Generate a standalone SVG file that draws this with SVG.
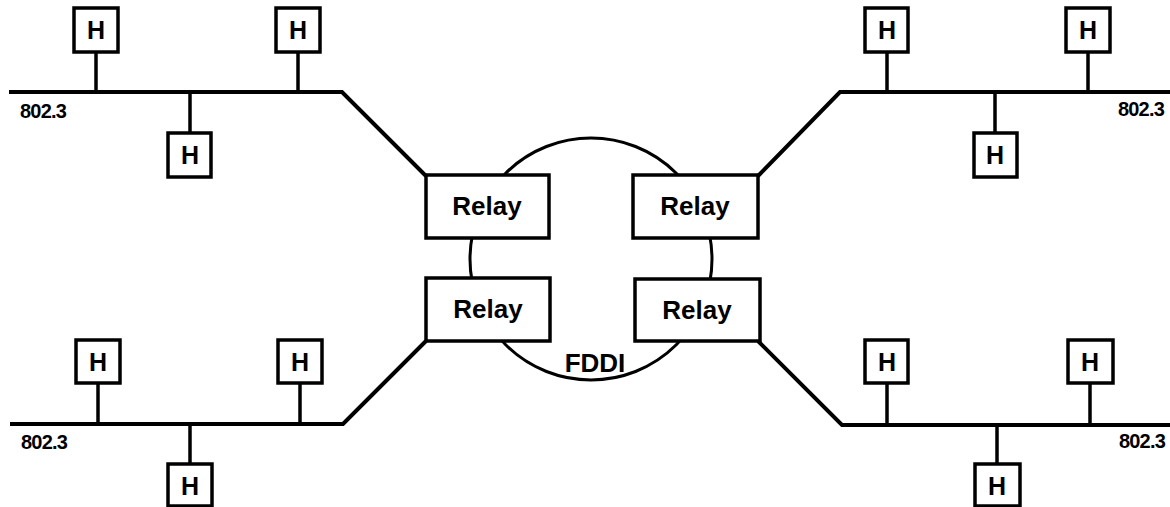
<svg xmlns="http://www.w3.org/2000/svg" width="1170" height="507" viewBox="0 0 1170 507">
<style>
.bus{fill:none;stroke:#000;stroke-width:4;stroke-linejoin:miter}
.stem{stroke:#000;stroke-width:3.5}
.ring{fill:none;stroke:#000;stroke-width:3}
.hbox{fill:#fff;stroke:#000;stroke-width:3.5}
.rbox{fill:#fff;stroke:#000;stroke-width:3.5}
.ht{font-family:"Liberation Sans",Arial,sans-serif;font-weight:bold;font-size:25px;text-anchor:middle}
.rt{font-family:"Liberation Sans",Arial,sans-serif;font-weight:bold;font-size:26px;text-anchor:middle}
.lbl{font-family:"Liberation Sans",Arial,sans-serif;font-weight:bold;font-size:20px;letter-spacing:-0.8px}
.fddi{font-family:"Liberation Sans",Arial,sans-serif;font-weight:bold;font-size:26px;text-anchor:middle}
</style>
<rect width="1170" height="507" fill="#fff"/>
<g id="connectors">
<circle class="ring" cx="591" cy="259" r="121"/>
<path class="bus" d="M9 92 H342 L426 176"/>
<path class="bus" d="M1170 92 H840 L758 176"/>
<path class="bus" d="M10 424 H343 L426 341"/>
<path class="bus" d="M1170 425 H842 L758 341"/>
<line class="stem" x1="96" y1="52" x2="96" y2="92"/>
<line class="stem" x1="298" y1="52" x2="298" y2="92"/>
<line class="stem" x1="190" y1="92" x2="190" y2="133"/>
<line class="stem" x1="887" y1="52" x2="887" y2="92"/>
<line class="stem" x1="1088" y1="52" x2="1088" y2="92"/>
<line class="stem" x1="995" y1="92" x2="995" y2="133"/>
<line class="stem" x1="98" y1="383" x2="98" y2="424"/>
<line class="stem" x1="300" y1="383" x2="300" y2="424"/>
<line class="stem" x1="190" y1="424" x2="190" y2="464"/>
<line class="stem" x1="887" y1="383" x2="887" y2="425"/>
<line class="stem" x1="1090" y1="383" x2="1090" y2="425"/>
<line class="stem" x1="997" y1="425" x2="997" y2="464"/>
</g>
<g id="relay-tl"><rect class="rbox" x="426" y="175" width="123" height="63"/><text class="rt" x="487" y="215">Relay</text></g>
<g id="relay-tr"><rect class="rbox" x="633" y="175" width="125" height="63"/><text class="rt" x="695" y="215">Relay</text></g>
<g id="relay-bl"><rect class="rbox" x="426" y="278" width="124" height="63"/><text class="rt" x="488" y="318">Relay</text></g>
<g id="relay-br"><rect class="rbox" x="635" y="279" width="125" height="62"/><text class="rt" x="697" y="319">Relay</text></g>
<g id="fddi-label"><text class="fddi" x="595" y="372">FDDI</text></g>
<g id="h-tl1"><rect class="hbox" x="74" y="8" width="44" height="44"/><text class="ht" x="96" y="39">H</text></g>
<g id="h-tl2"><rect class="hbox" x="276" y="8" width="44" height="44"/><text class="ht" x="298" y="39">H</text></g>
<g id="h-tl3"><rect class="hbox" x="168" y="133" width="43" height="44"/><text class="ht" x="190" y="164">H</text></g>
<g id="h-tr1"><rect class="hbox" x="865" y="8" width="43" height="44"/><text class="ht" x="887" y="39">H</text></g>
<g id="h-tr2"><rect class="hbox" x="1066" y="8" width="44" height="44"/><text class="ht" x="1088" y="39">H</text></g>
<g id="h-tr3"><rect class="hbox" x="974" y="133" width="43" height="44"/><text class="ht" x="995" y="164">H</text></g>
<g id="h-bl1"><rect class="hbox" x="76" y="340" width="44" height="43"/><text class="ht" x="98" y="371">H</text></g>
<g id="h-bl2"><rect class="hbox" x="278" y="340" width="44" height="43"/><text class="ht" x="300" y="371">H</text></g>
<g id="h-bl3"><rect class="hbox" x="168" y="464" width="44" height="42"/><text class="ht" x="190" y="495">H</text></g>
<g id="h-br1"><rect class="hbox" x="865" y="340" width="43" height="43"/><text class="ht" x="887" y="371">H</text></g>
<g id="h-br2"><rect class="hbox" x="1068" y="340" width="45" height="43"/><text class="ht" x="1090" y="371">H</text></g>
<g id="h-br3"><rect class="hbox" x="975" y="464" width="45" height="42"/><text class="ht" x="997" y="495">H</text></g>
<g id="labels">
<text class="lbl" x="20" y="118">802.3</text>
<text class="lbl" x="1164" y="116" text-anchor="end">802.3</text>
<text class="lbl" x="21" y="449">802.3</text>
<text class="lbl" x="1165" y="448" text-anchor="end">802.3</text>
</g>
</svg>
